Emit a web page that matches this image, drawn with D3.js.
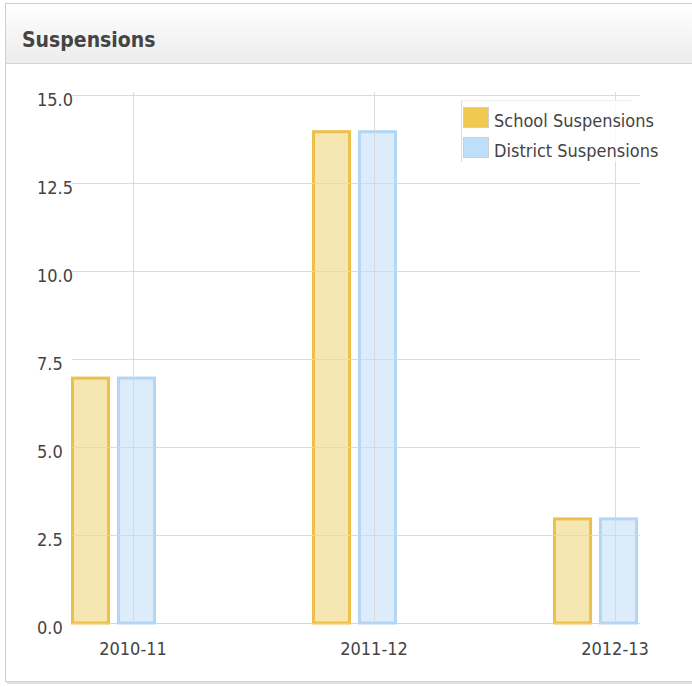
<!DOCTYPE html>
<html>
<head>
<meta charset="utf-8">
<script src="https://cdn.jsdelivr.net/npm/d3@7"></script>
<style>
  body { margin: 0; background: #fff; font-family: "DejaVu Sans Condensed", "DejaVu Sans", Verdana, sans-serif; }
</style>
</head>
<body>
<svg id="chart" width="692" height="687"></svg>
<script>
var years = ["2010-11", "2011-12", "2012-13"];
var seriesNames = ["School Suspensions", "District Suspensions"];
var schoolValues = [7, 14, 3];
var districtValues = [7, 14, 3];
var yTicks = [0, 2.5, 5, 7.5, 10, 12.5, 15];

var fills = ["#f5e6b2", "#ddecfa"];
var strokes = ["#ecc04a", "#b3d6f5"];
var swatch = ["#f0c852", "#bddff9"];

var svg = d3.select("#chart");

// panel + header
var defs = svg.append("defs");
var grad = defs.append("linearGradient").attr("id", "hdr").attr("x1", 0).attr("y1", 0).attr("x2", 0).attr("y2", 1);
grad.append("stop").attr("offset", "0%").attr("stop-color", "#ffffff");
grad.append("stop").attr("offset", "100%").attr("stop-color", "#ececec");

svg.append("rect").attr("x", 7).attr("y", 5).attr("width", 692).attr("height", 679).attr("fill", "#e2e2e2");
svg.append("rect").attr("x", 5.5).attr("y", 3.5).attr("width", 692).attr("height", 678)
  .attr("fill", "#fff").attr("stroke", "#cfcfcf");
svg.append("rect").attr("x", 6).attr("y", 4).attr("width", 692).attr("height", 59).attr("fill", "url(#hdr)");
svg.append("line").attr("x1", 6).attr("x2", 692).attr("y1", 63.5).attr("y2", 63.5).attr("stroke", "#d4d4d4");
svg.append("text").attr("x", 22).attr("y", 47).text("Suspensions")
  .attr("font-size", 21).attr("font-weight", "bold").attr("fill", "#444");

// scales
var y = d3.scaleLinear().domain([0, 15]).range([623, 95]);
var x = d3.scalePoint().domain(years).range([133, 615]);
var inner = d3.scaleBand().domain(seriesNames).range([-62, 23]).paddingInner(0.15);

var data = years.map(function (yr, i) {
  return { year: yr, vals: [schoolValues[i], districtValues[i]] };
});

// bars
var groups = svg.append("g").selectAll("g").data(data).enter().append("g")
  .attr("transform", function (d) { return "translate(" + x(d.year) + ",0)"; });

groups.selectAll("rect").data(function (d) {
  return d.vals.map(function (v, j) { return { name: seriesNames[j], v: v, j: j }; });
}).enter().append("rect")
  .attr("x", function (d) { return inner(d.name) + 1.5; })
  .attr("y", function (d) { return y(d.v) + 1.5; })
  .attr("width", inner.bandwidth() - 3)
  .attr("height", function (d) { return y(0) - y(d.v) - 1.5; })
  .attr("fill", function (d) { return fills[d.j]; })
  .attr("stroke", function (d) { return strokes[d.j]; })
  .attr("stroke-width", 3);

// grid lines over bars
var grid = svg.append("g");
grid.selectAll("line.h").data(yTicks).enter().append("line")
  .attr("x1", 72).attr("x2", 640)
  .attr("y1", function (d) { return Math.round(y(d)) + 0.5; })
  .attr("y2", function (d) { return Math.round(y(d)) + 0.5; })
  .attr("stroke", function (d) { return d === 0 ? "#cfcfcf" : "#d6d6d6"; })
  .attr("stroke-opacity", 0.85);
grid.selectAll("line.v").data(years).enter().append("line")
  .attr("x1", function (d) { return Math.round(x(d)) + 0.5; })
  .attr("x2", function (d) { return Math.round(x(d)) + 0.5; })
  .attr("y1", 92).attr("y2", 623)
  .attr("stroke", "#d6d6d6").attr("stroke-opacity", 0.85);

// axis labels
svg.append("g").selectAll("text").data(yTicks).enter().append("text")
  .attr("x", 37).attr("y", function (d) { return y(d) + 10.5; })
  .text(function (d) { return d3.format(".1f")(d); })
  .attr("font-size", 18).attr("fill", "#444");

svg.append("g").selectAll("text").data(years).enter().append("text")
  .attr("x", function (d) { return x(d); }).attr("y", 655)
  .attr("text-anchor", "middle")
  .text(function (d) { return d; })
  .attr("font-size", 18).attr("fill", "#444");

// legend
var lg = svg.append("g").attr("transform", "translate(461,100)");
lg.append("rect").attr("x", 0).attr("y", 0).attr("width", 205).attr("height", 62)
  .attr("fill", "#fff").attr("fill-opacity", 0.8);
lg.append("line").attr("x1", 0.5).attr("x2", 0.5).attr("y1", 0).attr("y2", 62).attr("stroke", "#ddd");
lg.append("line").attr("x1", 0).attr("x2", 170).attr("y1", 0.5).attr("y2", 0.5).attr("stroke", "#eee");
var items = lg.selectAll("g.item").data(seriesNames).enter().append("g")
  .attr("transform", function (d, i) { return "translate(0," + (i * 30) + ")"; });
items.append("rect").attr("x", 2.5).attr("y", 7.5).attr("width", 25).attr("height", 20)
  .attr("fill", function (d, i) { return swatch[i]; }).attr("stroke", "#cfcfcf");
items.append("text").attr("x", 33).attr("y", 27).text(function (d) { return d; })
  .attr("font-size", 18).attr("fill", "#444");
</script>
</body>
</html>
